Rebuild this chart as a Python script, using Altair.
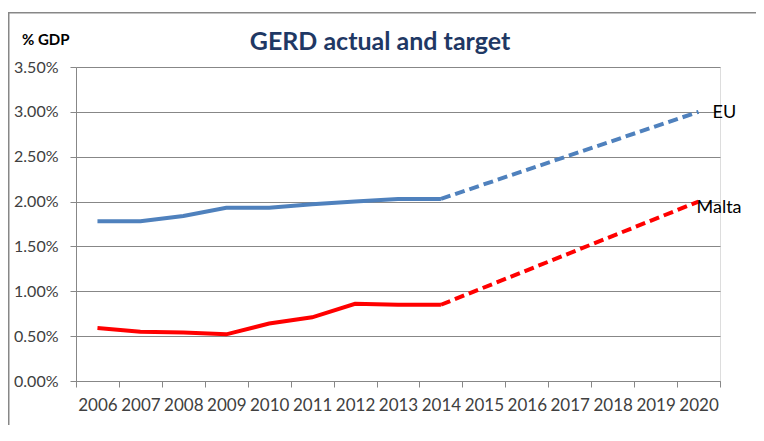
import altair as alt
import pandas as pd

years = [str(y) for y in range(2006, 2021)]

actual_years = ["2006", "2007", "2008", "2009", "2010", "2011", "2012", "2013", "2014"]
eu_actual = [0.0178, 0.0178, 0.0184, 0.0193, 0.0193, 0.0197, 0.0200, 0.0203, 0.0203]
malta_actual = [0.0059, 0.0055, 0.0054, 0.0052, 0.0064, 0.0071, 0.0086, 0.0085, 0.0085]

target_years = ["2014", "2020"]
eu_target = [0.0203, 0.0300]
malta_target = [0.0085, 0.0200]

title_text = "GERD actual and target"
y_title = "% GDP"

rows = []
for y, v in zip(actual_years, eu_actual):
    rows.append({"year": y, "value": v, "series": "EU", "seg": "actual"})
for y, v in zip(actual_years, malta_actual):
    rows.append({"year": y, "value": v, "series": "Malta", "seg": "actual"})
for y, v in zip(target_years, eu_target):
    rows.append({"year": y, "value": v, "series": "EU", "seg": "target"})
for y, v in zip(target_years, malta_target):
    rows.append({"year": y, "value": v, "series": "Malta", "seg": "target"})
df = pd.DataFrame(rows)

labels = pd.DataFrame({
    "year": ["2020", "2020"],
    "value": [eu_target[-1], malta_target[-1]],
    "series": ["EU", "Malta"],
})

FONT = "Lato"
GRID = "#878787"
TXT = "#404040"

x = alt.X("year:O", scale=alt.Scale(domain=years, paddingInner=0, paddingOuter=0),
          axis=alt.Axis(title=None, labelAngle=0, tickBand="extent", grid=False,
                        labelFontSize=17, labelFont=FONT, labelColor=TXT, labelPadding=10,
                        tickSize=6, tickColor=GRID, domainColor=GRID))
y = alt.Y("value:Q", scale=alt.Scale(domain=[0, 0.035], nice=False),
          axis=alt.Axis(title=None,
                        values=[i * 0.005 for i in range(8)], format=".2%",
                        labelFontSize=16, labelFont=FONT, labelColor=TXT, labelPadding=12,
                        tickSize=6, tickColor=GRID, domainColor=GRID,
                        grid=True, gridColor=GRID, gridWidth=1))
color = alt.Color("series:N", scale=alt.Scale(domain=["EU", "Malta"], range=["#4F81BD", "#FF0000"]),
                  legend=None)

base = alt.Chart(df)
solid = base.transform_filter(alt.datum.seg == "actual").mark_line(strokeWidth=4).encode(
    x=x, y=y, color=color, detail="series:N")
dashed = base.transform_filter(alt.datum.seg == "target").mark_line(
    strokeWidth=4, strokeDash=[10, 5]).encode(x=x, y=y, color=color, detail="series:N")

txt_eu = alt.Chart(labels).transform_filter(alt.datum.series == "EU").mark_text(
    align="left", dx=14, dy=1, fontSize=18, font=FONT, color="#000000").encode(
    x="year:O", y="value:Q", text="series:N")
txt_mt = alt.Chart(labels).transform_filter(alt.datum.series == "Malta").mark_text(
    align="left", dx=-2, dy=6, fontSize=18, font=FONT, color="#000000").encode(
    x="year:O", y="value:Q", text="series:N")

one = pd.DataFrame({"a": [0]})
border_top = alt.Chart(one).mark_rect(color=GRID, clip=False).encode(
    x=alt.value(-68), x2=alt.value(700), y=alt.value(-55), y2=alt.value(-53.5))
border_left = alt.Chart(one).mark_rect(color=GRID, clip=False).encode(
    x=alt.value(-68), x2=alt.value(-66.5), y=alt.value(-55), y2=alt.value(366))

title_mark = alt.Chart(pd.DataFrame({"t": [title_text]})).mark_text(
    font=FONT, fontSize=25, fontWeight="bold", color="#1F3864", align="center",
    baseline="middle").encode(x=alt.value(304), y=alt.value(-25), text="t:N")
ytitle_mark = alt.Chart(pd.DataFrame({"t": [y_title]})).mark_text(
    font=FONT, fontSize=15, fontWeight="bold", color="#000000", align="left",
    baseline="middle").encode(x=alt.value(-54), y=alt.value(-27), text="t:N")

chart = alt.layer(border_top, border_left, solid, dashed, txt_eu, txt_mt, title_mark, ytitle_mark).properties(
    width=644, height=314,
    padding={"left": 68, "top": 59, "right": 36, "bottom": 44},
    autosize="none",
).configure_view(stroke=None).configure(background="white")

chart.save("out.html", embed_options={"renderer": "svg", "actions": False})
